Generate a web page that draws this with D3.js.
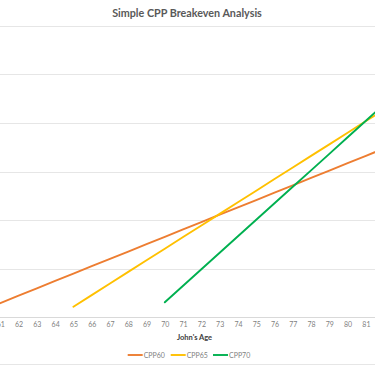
<!DOCTYPE html>
<html>
<head>
<meta charset="utf-8">
<script src="https://cdn.jsdelivr.net/npm/d3@7"></script>
<style>
  html, body { margin: 0; padding: 0; background: #fff; overflow: hidden; }
  svg { display: block; }
  text { font-family: Lato, "Open Sans", sans-serif; }
</style>
</head>
<body>
<svg id="chart" width="375" height="366"></svg>
<script>
// ---- data ----
const ages = [60,61,62,63,64,65,66,67,68,69,70,71,72,73,74,75,76,77,78,79,80,81,82,83,84,85];
const cpp60 = [6800,14400,22000,29600,37200,44800,52400,60000,67500,75100,82700,90300,97900,105500,113000,120600,128200,135800,143400,151000,158600,166200,173800,181400,189000,196600];
const cpp65Ages = [65,66,67,68,69,70,71,72,73,74,75,76,77,78,79,80,81,82,83,84,85];
const cpp65 = [10600,22600,34500,46500,58500,70400,82400,94300,106300,118300,130200,142200,154100,166100,178000,190000,202000,213900,225900,237800,249800];
const cpp70Ages = [70,71,72,73,74,75,76,77,78,79,80,81,82,83,84,85];
const cpp70 = [15200,32200,49200,66200,83200,100200,117200,134200,151200,168200,185300,202300,219300,236300,253300,270300];
const tickAges = [61,62,63,64,65,66,67,68,69,70,71,72,73,74,75,76,77,78,79,80,81];
const yTicks = [0,50000,100000,150000,200000,250000,300000];
const seriesNames = ["CPP60","CPP65","CPP70"];
const colors = ["#ED7D31","#FFC000","#00B050"];
const title = "Simple CPP Breakeven Analysis";
const xTitle = "John's Age";

// ---- layout ----
const svg = d3.select("#chart");
const W = 375;
const step = 18.28;
const x = d3.scalePoint().domain(ages).range([0.3 - step, 0.3 + step * (ages.length - 2)]);
const y = d3.scaleLinear().domain([0, 300000]).range([317, 26]);

// gridlines
svg.append("g").selectAll("line").data(yTicks).join("line")
  .attr("x1", 0).attr("x2", W)
  .attr("y1", d => Math.round(y(d)) + 0.5).attr("y2", d => Math.round(y(d)) + 0.5)
  .attr("stroke", d => d === 0 ? "#d9d9d9" : "#e6e6e6").attr("stroke-width", 1);

// chart border bottom
svg.append("line").attr("x1", 0).attr("x2", W).attr("y1", 364.5).attr("y2", 364.5)
  .attr("stroke", "#e6e6e6");

// x axis labels
const xAxis = d3.axisBottom(x).tickSize(0).tickPadding(5).tickValues(tickAges);
const gx = svg.append("g").attr("transform", `translate(0,${y(0)})`).call(xAxis);
gx.select(".domain").remove();
gx.selectAll("text").attr("fill", "#7f7f7f").style("font-size", "7px");

// lines
const series = [
  {name: seriesNames[0], ages: ages, vals: cpp60},
  {name: seriesNames[1], ages: cpp65Ages, vals: cpp65},
  {name: seriesNames[2], ages: cpp70Ages, vals: cpp70}
];
const line = d3.line().x(d => x(d[0])).y(d => y(d[1]));
series.forEach((s, i) => {
  svg.append("path")
    .datum(s.ages.map((a, j) => [a, s.vals[j]]))
    .attr("d", line)
    .attr("fill", "none")
    .attr("stroke", colors[i])
    .attr("stroke-width", 1.9)
    .attr("stroke-linecap", "round");
});

// title
const t = svg.append("text").text(title)
  .attr("x", 187).attr("y", 16.5).attr("text-anchor", "middle")
  .attr("fill", "#595959").style("font-size", "10.5px").style("font-weight", "700");
const tw = t.node().getComputedTextLength();
t.style("font-size", (10.5 * 150 / tw) + "px");

// x title
svg.append("text").text(xTitle)
  .attr("x", 194.5).attr("y", 339.5).attr("text-anchor", "middle")
  .attr("fill", "#404040").style("font-size", "7.5px").style("font-weight", "700");

// legend
const legendX = [127.7, 170.7, 213];
const lg = svg.append("g");
seriesNames.forEach((n, i) => {
  lg.append("line").attr("x1", legendX[i]).attr("x2", legendX[i] + 15)
    .attr("y1", 355).attr("y2", 355).attr("stroke", colors[i]).attr("stroke-width", 1.9);
  lg.append("text").text(n).attr("x", legendX[i] + 16).attr("y", 357.5)
    .attr("fill", "#7f7f7f").style("font-size", "7px");
});
</script>
</body>
</html>
